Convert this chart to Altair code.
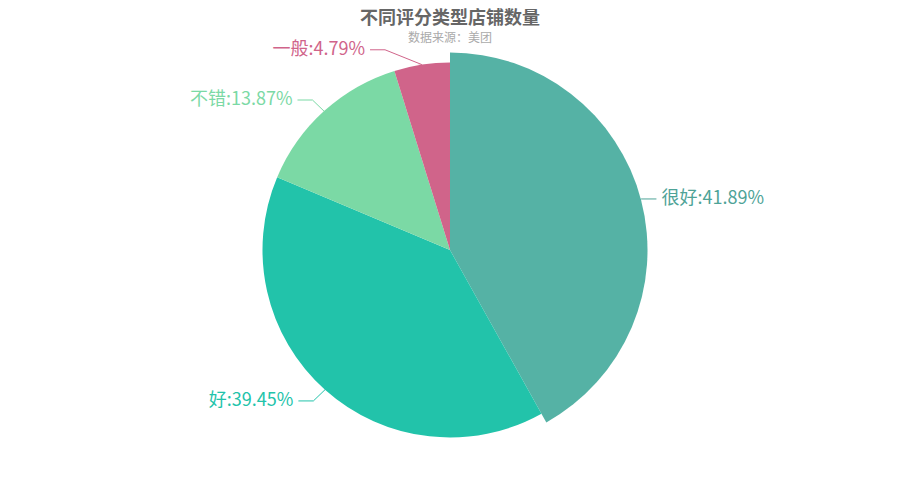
import altair as alt
import pandas as pd

# ---- data ----
categories = ["很好", "好", "不错", "一般"]
values = [41.89, 39.45, 13.87, 4.79]
order = [0, 1, 2, 3]

title_text = "不同评分类型店铺数量"
subtitle_text = "数据来源：美团"

# ---- style ----
slice_colors = ["#55b2a5", "#22c3aa", "#7bd9a5", "#d0648a"]
label_colors = ["#4ea397", "#22c3aa", "#7bd9a5", "#d0648a"]
W, H = 884, 484
CX, CY = W / 2, H / 2
R = 187.5
R_EMPH = 197.5
LEN1, LEN2, GAP = 15, 15, 5
FONT = "Noto Sans CJK SC"

df = pd.DataFrame({"category": categories, "value": values, "order": order})

base = alt.Chart(df).transform_joinaggregate(
    total="sum(value)"
).transform_window(
    cum="sum(value)", sort=[alt.SortField("order")], frame=[None, 0]
).transform_calculate(
    t0="2*PI*(datum.cum - datum.value)/datum.total",
    t1="2*PI*datum.cum/datum.total",
    ang="2*PI*(datum.cum - datum.value/2)/datum.total",
).transform_calculate(
    sx="sin(datum.ang)", sy="-cos(datum.ang)",
).transform_calculate(
    dir="datum.sx < 0 ? -1 : 1",
    p1x=f"{CX} + {R}*datum.sx",
    p1y=f"{CY} + {R}*datum.sy",
    p2y=f"{CY} + {R + LEN1}*datum.sy",
    rr=f"datum.order == 0 ? {R_EMPH} : {R}",
    label="datum.category + ':' + format(datum.value/datum.total*100, '.2f') + '%'",
).transform_calculate(
    dy=f"abs(datum.p2y - {CY})",
).transform_calculate(
    dX=f"sqrt({(R + LEN1 + LEN2) ** 2} - datum.dy*datum.dy)",
).transform_calculate(
    lx=f"{CX} + datum.dX*datum.dir",
).transform_calculate(
    p3x=f"datum.lx - {GAP}*datum.dir",
).transform_calculate(
    p2x=f"datum.p3x - {LEN2}*datum.dir",
)

line_color = alt.Color("category:N", scale=alt.Scale(domain=categories, range=label_colors), legend=None)

seg1 = base.mark_rule(strokeWidth=1).encode(
    x=alt.X("p1x:Q", scale=None), y=alt.Y("p1y:Q", scale=None),
    x2="p2x:Q", y2="p2y:Q", color=line_color,
)
seg2 = base.mark_rule(strokeWidth=1).encode(
    x=alt.X("p2x:Q", scale=None), y=alt.Y("p2y:Q", scale=None),
    x2="p3x:Q", y2="p2y:Q", color=line_color,
)

arcs = base.mark_arc().encode(
    theta=alt.Theta("t0:Q", scale=None),
    theta2="t1:Q",
    radius=alt.Radius("rr:Q", scale=None),
    fill=alt.Fill("category:N", scale=alt.Scale(domain=categories, range=slice_colors), legend=None),
)

text_left = base.transform_filter("datum.dir < 0").mark_text(
    align="right", baseline="middle", fontSize=18, font=FONT
).encode(
    x=alt.X("lx:Q", scale=None), y=alt.Y("p2y:Q", scale=None),
    text="label:N", color=line_color,
)
text_right = base.transform_filter("datum.dir > 0").mark_text(
    align="left", baseline="middle", fontSize=18, font=FONT
).encode(
    x=alt.X("lx:Q", scale=None), y=alt.Y("p2y:Q", scale=None),
    text="label:N", color=line_color,
)

title = alt.Chart(pd.DataFrame({"t": [title_text]})).mark_text(
    align="center", baseline="middle", fontSize=18, fontWeight="bold", font=FONT, color="#666666"
).encode(x=alt.value(CX), y=alt.value(11), text="t:N")

subtitle = alt.Chart(pd.DataFrame({"t": [subtitle_text]})).mark_text(
    align="center", baseline="middle", fontSize=12, font=FONT, color="#aaaaaa"
).encode(x=alt.value(CX), y=alt.value(30), text="t:N")

chart = alt.layer(seg1, seg2, arcs, text_left, text_right, title, subtitle).properties(
    width=W, height=H, autosize=alt.AutoSizeParams(type="none"), padding=0
).configure_view(stroke=None)

chart.save("out.html", embed_options={"renderer": "svg", "actions": False})
